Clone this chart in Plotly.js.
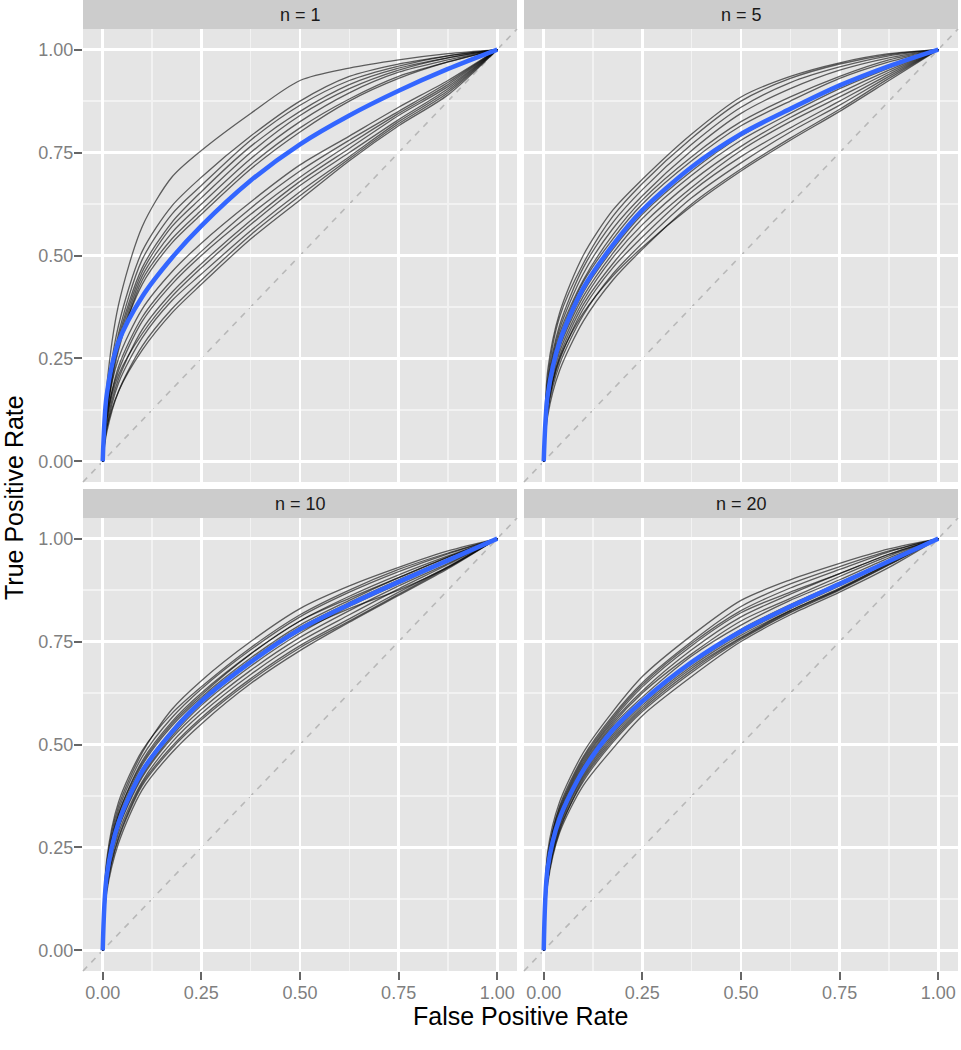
<!DOCTYPE html>
<html>
<head>
<meta charset="utf-8">
<script src="https://cdn.plot.ly/plotly-3.0.1.min.js"></script>
<style>
  html, body { margin: 0; padding: 0; background: #fff; }
  #chart { width: 961px; height: 1050px; }
</style>
</head>
<body>
<div id="chart"></div>
<script>
// shared false positive rate grid the curves were read at
const fpr = [0, 0.01, 0.04, 0.1, 0.175, 0.25, 0.375, 0.5, 0.625, 0.75, 0.875, 1];

const facets = ['n = 1', 'n = 5', 'n = 10', 'n = 20'];
const tickVals = [0, 0.25, 0.5, 0.75, 1];
const tickText = ['0.00', '0.25', '0.50', '0.75', '1.00'];

// n = 1: individual ROC curves (true positive rate)
const tpr1 = [
    [0, .18, .38, .57, .69, .755, .845, .925, .955, .975, .99, 1],
    [0, .15, .33, .51, .62, .69, .79, .875, .935, .965, .985, 1],
    [0, .14, .31, .49, .60, .67, .78, .865, .925, .96, .985, 1],
    [0, .13, .30, .47, .58, .655, .765, .85, .915, .955, .98, 1],
    [0, .12, .29, .46, .57, .64, .75, .84, .905, .95, .98, 1],
    [0, .13, .28, .45, .555, .625, .735, .825, .895, .945, .975, 1],
    [0, .11, .27, .44, .54, .61, .72, .81, .88, .935, .97, 1],
    [0, .12, .28, .43, .53, .60, .71, .80, .875, .93, .97, 1],
    [0, .12, .25, .37, .46, .53, .63, .72, .79, .86, .925, 1],
    [0, .10, .23, .35, .44, .51, .615, .705, .78, .85, .92, 1],
    [0, .11, .22, .34, .43, .50, .60, .69, .77, .845, .915, 1],
    [0, .09, .20, .32, .41, .48, .585, .68, .76, .84, .91, 1],
    [0, .10, .21, .31, .40, .47, .575, .67, .75, .83, .905, 1],
    [0, .08, .19, .30, .39, .455, .56, .655, .74, .825, .90, 1],
    [0, .07, .17, .28, .37, .44, .55, .645, .735, .82, .895, 1],
    [0, .08, .17, .27, .36, .43, .54, .635, .73, .815, .89, 1]
];
const mean1 = [0, .16, .29, .40, .494, .572, .682, .77, .84, .90, .953, 1];

// n = 5
const tpr5 = [
    [0, .22, .36, .50, .61, .685, .795, .885, .935, .968, .99, 1],
    [0, .20, .35, .48, .595, .675, .785, .875, .93, .965, .988, 1],
    [0, .19, .33, .47, .58, .66, .77, .86, .92, .958, .985, 1],
    [0, .18, .32, .455, .565, .645, .755, .845, .905, .95, .98, 1],
    [0, .17, .31, .44, .55, .635, .74, .825, .885, .935, .975, 1],
    [0, .17, .30, .435, .54, .625, .73, .815, .875, .93, .97, 1],
    [0, .15, .28, .41, .515, .60, .705, .79, .855, .91, .96, 1],
    [0, .15, .275, .40, .505, .59, .695, .78, .845, .905, .955, 1],
    [0, .14, .265, .39, .495, .575, .68, .765, .835, .895, .95, 1],
    [0, .13, .255, .38, .48, .56, .665, .755, .825, .885, .945, 1],
    [0, .13, .245, .37, .47, .545, .655, .74, .81, .875, .94, 1],
    [0, .12, .235, .355, .455, .53, .64, .725, .80, .865, .935, 1],
    [0, .11, .22, .34, .44, .515, .625, .71, .785, .855, .93, 1],
    [0, .13, .25, .36, .45, .52, .62, .705, .78, .85, .925, 1]
];
const mean5 = [0, .16, .29, .42, .525, .61, .715, .795, .856, .913, .96, 1];

// n = 10
const tpr10 = [
    [0, .21, .35, .48, .585, .655, .75, .83, .885, .93, .97, 1],
    [0, .22, .36, .485, .575, .64, .735, .815, .875, .925, .965, 1],
    [0, .20, .34, .47, .565, .635, .73, .81, .87, .92, .963, 1],
    [0, .19, .33, .46, .555, .625, .72, .80, .86, .912, .958, 1],
    [0, .19, .32, .45, .545, .615, .71, .79, .85, .905, .955, 1],
    [0, .18, .31, .44, .535, .61, .705, .785, .845, .90, .95, 1],
    [0, .17, .30, .425, .52, .595, .69, .77, .835, .89, .945, 1],
    [0, .17, .295, .42, .515, .585, .68, .76, .825, .885, .94, 1],
    [0, .16, .285, .41, .505, .575, .67, .75, .815, .878, .937, 1],
    [0, .15, .275, .405, .495, .565, .66, .74, .805, .87, .932, 1],
    [0, .15, .27, .40, .49, .56, .655, .735, .80, .865, .93, 1],
    [0, .14, .26, .39, .48, .55, .648, .728, .797, .862, .927, 1],
    [0, .18, .30, .43, .53, .60, .70, .775, .83, .875, .93, 1],
    [0, .20, .33, .455, .55, .62, .72, .80, .855, .905, .955, 1]
];
const mean10 = [0, .18, .31, .435, .53, .605, .70, .78, .84, .895, .947, 1];

// n = 20
const tpr20 = [
    [0, .24, .36, .48, .58, .665, .765, .85, .90, .94, .975, 1],
    [0, .22, .35, .47, .57, .65, .75, .835, .89, .932, .97, 1],
    [0, .23, .345, .465, .565, .645, .745, .825, .88, .925, .968, 1],
    [0, .21, .335, .455, .555, .63, .73, .81, .865, .915, .962, 1],
    [0, .21, .33, .45, .55, .625, .72, .80, .855, .908, .958, 1],
    [0, .20, .325, .445, .545, .615, .715, .79, .85, .90, .953, 1],
    [0, .19, .315, .435, .535, .605, .70, .78, .84, .893, .948, 1],
    [0, .19, .31, .43, .525, .60, .695, .77, .83, .885, .944, 1],
    [0, .18, .30, .42, .515, .59, .685, .76, .825, .88, .94, 1],
    [0, .17, .295, .41, .505, .58, .675, .755, .82, .875, .936, 1],
    [0, .16, .285, .40, .49, .57, .665, .75, .815, .87, .93, 1],
    [0, .18, .305, .425, .52, .595, .69, .765, .825, .878, .94, 1],
    [0, .22, .34, .46, .56, .64, .74, .82, .87, .915, .962, 1],
    [0, .17, .29, .415, .51, .585, .68, .758, .822, .877, .937, 1]
];
const mean20 = [0, .20, .32, .437, .535, .605, .70, .775, .835, .89, .945, 1];

const curves = [tpr1, tpr5, tpr10, tpr20];
const means = [mean1, mean5, mean10, mean20];

const W = 961, H = 1050;
const FONT = 'Liberation Sans, Arial, Helvetica, sans-serif';

// panel boxes in pixels: [left, right] and [top, bottom]
const cols = [[83, 517], [524, 958]];
const rows = [[29, 482], [518, 971]];
const STRIP = 29;

const traces = [];
curves.forEach((set, p) => {
    const s = p === 0 ? '' : String(p + 1);
    set.forEach(y => {
        traces.push({
            x: fpr, y: y, xaxis: 'x' + s, yaxis: 'y' + s,
            type: 'scatter', mode: 'lines',
            line: { color: 'rgba(0,0,0,0.6)', width: 1.3, shape: 'spline', smoothing: 0.8 },
            hoverinfo: 'skip', showlegend: false
        });
    });
    traces.push({
        x: fpr, y: means[p], xaxis: 'x' + s, yaxis: 'y' + s,
        type: 'scatter', mode: 'lines',
        line: { color: '#3366FF', width: 4.5, shape: 'spline', smoothing: 0.8 },
        hoverinfo: 'skip', showlegend: false
    });
});

function axis(domain, anchor, showLabels) {
    return {
        domain: domain, anchor: anchor,
        range: [-0.05, 1.05], fixedrange: true,
        tickmode: 'array', tickvals: tickVals, ticktext: tickText,
        showticklabels: showLabels,
        ticks: showLabels ? 'outside' : '', ticklen: 8, tickwidth: 2, tickcolor: '#666666',
        ticklabelstandoff: -3,
        tickfont: { family: FONT, size: 18, color: '#7f7f7f' },
        showgrid: true, gridcolor: '#ffffff', gridwidth: 2.6,
        minor: { tick0: 0, dtick: 0.125, showgrid: true, gridcolor: '#F2F2F2', gridwidth: 1.3 },
        zeroline: false, showline: false
    };
}

const layout = {
    width: W, height: H,
    margin: { l: 0, r: 0, t: 0, b: 0 },
    paper_bgcolor: '#fff', plot_bgcolor: '#E5E5E5',
    font: { family: FONT },
    shapes: [], annotations: []
};

facets.forEach((label, p) => {
    const s = p === 0 ? '' : String(p + 1);
    const c = cols[p % 2], r = rows[Math.floor(p / 2)];
    const xd = [c[0] / W, c[1] / W];
    const yd = [1 - r[1] / H, 1 - r[0] / H];
    layout['xaxis' + s] = axis(xd, 'y' + s, Math.floor(p / 2) === 1);
    layout['yaxis' + s] = axis(yd, 'x' + s, p % 2 === 0);

    // dashed reference diagonal, corner to corner of the (square-range) panel
    layout.shapes.push({
        type: 'line', xref: 'x' + s + ' domain', yref: 'y' + s + ' domain',
        x0: 0, y0: 0, x1: 1, y1: 1, layer: 'below',
        line: { color: '#b8b8b8', width: 1.6, dash: '6px,6px' }
    });
    // facet strip
    layout.shapes.push({
        type: 'rect', xref: 'paper', yref: 'paper',
        x0: xd[0], x1: xd[1], y0: yd[1], y1: yd[1] + STRIP / H,
        fillcolor: '#CCCCCC', line: { width: 0 }, layer: 'below'
    });
    layout.annotations.push({
        text: label, xref: 'paper', yref: 'paper',
        x: (xd[0] + xd[1]) / 2, y: yd[1] + STRIP / 2 / H,
        xanchor: 'center', yanchor: 'middle', showarrow: false,
        font: { family: FONT, size: 18, color: '#1a1a1a' }
    });
});

layout.annotations.push({
    text: 'False Positive Rate', xref: 'paper', yref: 'paper',
    x: 520 / W, y: 1 - 1016 / H, xanchor: 'center', yanchor: 'middle',
    showarrow: false, font: { family: FONT, size: 25, color: '#000' }
});
layout.annotations.push({
    text: 'True Positive Rate', xref: 'paper', yref: 'paper',
    x: 14 / W, y: 1 - 498 / H, xanchor: 'center', yanchor: 'middle', textangle: -90,
    showarrow: false, font: { family: FONT, size: 25, color: '#000' }
});

Plotly.newPlot('chart', traces, layout, { displayModeBar: false, staticPlot: true });
</script>
</body>
</html>
